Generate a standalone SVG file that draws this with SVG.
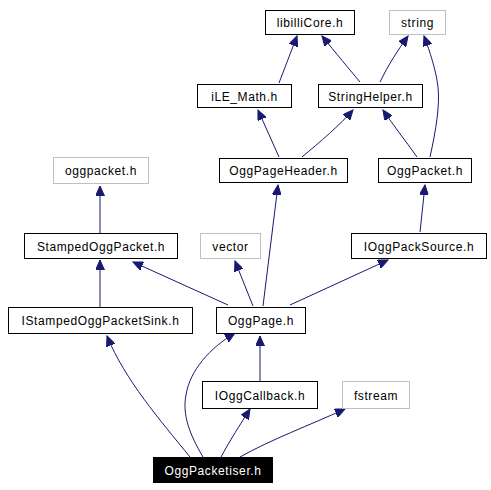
<svg xmlns="http://www.w3.org/2000/svg" width="491" height="490" viewBox="0 0 491 490">
<style>
rect{fill:#fff;stroke:#000;stroke-width:1}
rect.ext{stroke:#bfbfbf}
rect.cur{fill:#000}
text{font-family:"Liberation Sans",Arial,sans-serif;font-size:12px;letter-spacing:0.6px;text-anchor:middle;fill:#000}
text.cur{fill:#fff}
#edges path{fill:none;stroke:#191970;stroke-width:1;marker-end:url(#ah)}
</style>
<defs>
<marker id="ah" markerUnits="userSpaceOnUse" markerWidth="11" markerHeight="9" refX="10" refY="4.5" orient="auto" viewBox="0 0 11 9">
<path d="M0,0 L10,4.5 L0,9 z" fill="#191970" stroke="#191970"/>
</marker>
</defs>
<rect x="0" y="0" width="491" height="490" style="fill:#fff;stroke:none"/>
<g id="edges">
<path d="M279,83 L297,36"/>
<path d="M360,82 C350,70 335,52 322,36"/>
<path d="M380,82 C388,65 398,50 408,36"/>
<path d="M430,157 C436,130 440,105 438,87 C436,70 430,52 424,36"/>
<path d="M279,157 L258,110"/>
<path d="M302,157 C320,142 340,125 353,110"/>
<path d="M417,157 C405,140 393,125 383,110"/>
<path d="M100,233 L100,186"/>
<path d="M100,307 L100,260"/>
<path d="M228,305 L133,262"/>
<path d="M253,306 L235,261"/>
<path d="M263,306 L278,185"/>
<path d="M290,305 L388,260"/>
<path d="M420,232 L425,185"/>
<path d="M260,381 L260,336"/>
<path d="M190,457 C160,420 125,380 107,336"/>
<path d="M203,457 C190,435 182,415 186,395 C190,370 210,348 235,333"/>
<path d="M221,457 C230,440 240,425 250,409"/>
<path d="M240,457 C270,440 310,425 345,409"/>
</g>
<g id="libilliCore"><rect x="265.5" y="10.5" width="89" height="24"/><text x="310" y="27">libilliCore.h</text></g>
<g id="string"><rect class="ext" x="389.5" y="10.5" width="56" height="24"/><text x="417.5" y="27">string</text></g>
<g id="iLE_Math"><rect x="197.5" y="84.5" width="94" height="23"/><text x="244.5" y="100.5">iLE_Math.h</text></g>
<g id="StringHelper"><rect x="318.5" y="84.5" width="104" height="23"/><text x="370.5" y="100.5">StringHelper.h</text></g>
<g id="OggPageHeader"><rect x="219.5" y="158.5" width="128" height="24"/><text x="283.5" y="175">OggPageHeader.h</text></g>
<g id="OggPacket"><rect x="378.5" y="158.5" width="93" height="24"/><text x="425" y="175">OggPacket.h</text></g>
<g id="oggpacket"><rect class="ext" x="53.5" y="157.5" width="95" height="26"/><text x="101" y="175">oggpacket.h</text></g>
<g id="StampedOggPacket"><rect x="24.5" y="233.5" width="153" height="25"/><text x="101" y="250.5">StampedOggPacket.h</text></g>
<g id="vector"><rect class="ext" x="200.5" y="233.5" width="60" height="25"/><text x="230.5" y="250.5">vector</text></g>
<g id="IOggPackSource"><rect x="351.5" y="233.5" width="135" height="25"/><text x="419" y="250.5">IOggPackSource.h</text></g>
<g id="IStampedOggPacketSink"><rect x="8.5" y="307.5" width="184" height="26"/><text x="100.5" y="325">IStampedOggPacketSink.h</text></g>
<g id="OggPage"><rect x="216.5" y="307.5" width="89" height="26"/><text x="261" y="325">OggPage.h</text></g>
<g id="IOggCallback"><rect x="202.5" y="381.5" width="115" height="27"/><text x="260" y="399.5">IOggCallback.h</text></g>
<g id="fstream"><rect class="ext" x="342.5" y="381.5" width="67" height="27"/><text x="376" y="399.5">fstream</text></g>
<g id="OggPacketiser"><rect class="cur" x="153.5" y="457.5" width="119" height="25"/><text class="cur" x="213" y="474.5">OggPacketiser.h</text></g>
</svg>
